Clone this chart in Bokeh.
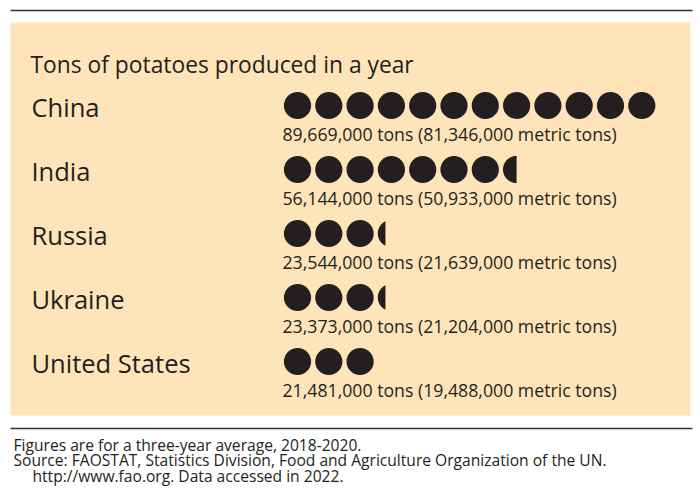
import numpy as np
from bokeh.plotting import figure
from bokeh.models import Range1d
from bokeh.core.properties import value
from bokeh.embed import file_html
from bokeh.resources import INLINE

# ---- data ----
title = "Tons of potatoes produced in a year"
countries = ["China", "India", "Russia", "Ukraine", "United States"]
tons = [89669000, 56144000, 23544000, 23373000, 21481000]
metric_tons = [81346000, 50933000, 21639000, 21204000, 19488000]
icons = [12, 7.5, 3.28, 3.28, 3]  # number of circles drawn
notes = [
    "Figures are for a three-year average, 2018-2020.",
    "Source: FAOSTAT, Statistics Division, Food and Agriculture Organization of the UN.",
    "http://www.fao.org. Data accessed in 2022.",
]

INK = "#231F20"
BEIGE = "#FEE4B8"
FONT = value("Open Sans")
W, H = 700, 502

p = figure(width=W, height=H, output_backend="svg", toolbar_location=None,
           x_range=Range1d(0, W), y_range=Range1d(H, 0),
           min_border=0, border_fill_color="white", background_fill_color="white")
p.axis.visible = False
p.grid.visible = False
p.outline_line_color = None

# panel and rules
p.quad(left=10, right=690, top=22, bottom=415, fill_color=BEIGE, line_color=None)
p.segment(x0=[10, 10], x1=[692, 692], y0=[10, 428], y1=[10, 428],
          line_color="#333333", line_width=1.6)

p.text(x=[30], y=[64], text=[title], text_font=FONT,
       text_font_size="22.8px", text_color=INK, text_baseline="middle")

row0, dy = 105, 64
x0, step, r = 297, 31.3, 13.6
cys = [row0 + i * dy for i in range(len(countries))]

p.text(x=[31] * len(countries), y=[c + 1.5 for c in cys], text=countries,
       text_font=FONT, text_font_size="25.5px", text_color=INK,
       text_baseline="middle")

labels = [f"{t:,} tons ({m:,} metric tons)" for t, m in zip(tons, metric_tons)]
p.text(x=[282] * len(countries), y=[c + 28.5 for c in cys], text=labels,
       text_font=FONT, text_font_size="17.7px", text_color=INK,
       text_baseline="middle")

fx, fy, px, py = [], [], [], []
for cy, n in zip(cys, icons):
    full = int(np.floor(n))
    frac = n - full
    for k in range(full):
        fx.append(x0 + k * step)
        fy.append(cy)
    if frac > 1e-6:
        cx = x0 + full * step
        cut = -r + 2 * r * frac
        t0 = np.arccos(cut / r)
        ang = np.linspace(t0, 2 * np.pi - t0, 80)
        px.append(list(cx + r * np.cos(ang)))
        py.append(list(cy + r * np.sin(ang)))

p.circle(x=fx, y=fy, radius=r, fill_color=INK, line_color=None)
if px:
    p.patches(xs=px, ys=py, fill_color=INK, line_color=None)

p.text(x=[13, 13, 32], y=[444 + i * 15.5 for i in range(3)], text=notes,
       text_font=FONT, text_font_size="15.6px",
       text_color=INK, text_baseline="middle")

open("out.html", "w").write(file_html(p, INLINE))
